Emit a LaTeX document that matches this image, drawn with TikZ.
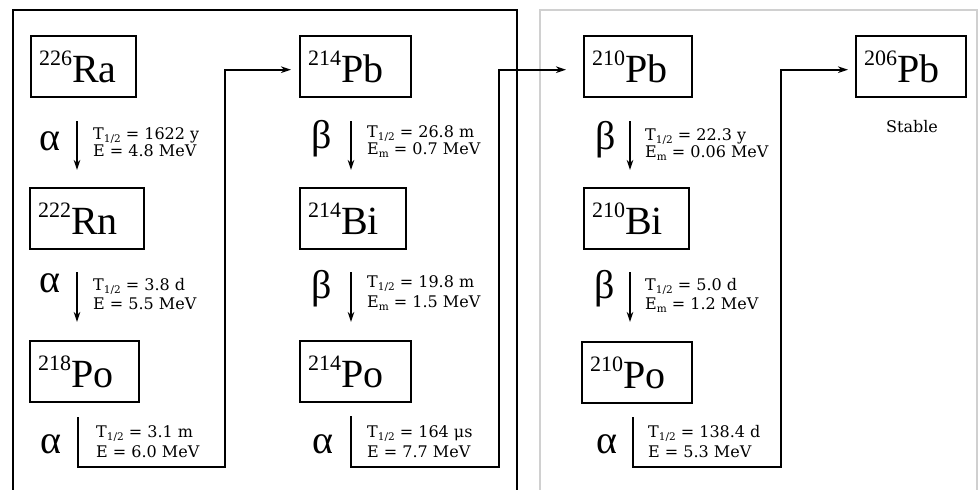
\documentclass[tikz,border=0pt]{standalone}
\usepackage{fontspec}
\newfontfamily\nucfont{Liberation Serif}
\newfontfamily\lblfont{DejaVu Serif}
\usetikzlibrary{arrows.meta}
\definecolor{framegray}{RGB}{208,208,208}
\newcommand\nuc[2]{{\nucfont\raisebox{17pt}{\fontsize{22}{22}\selectfont #1}\fontsize{40}{40}\selectfont #2}}
\newcommand\grk[1]{{\nucfont\fontsize{40}{40}\selectfont #1}}
\newcommand\sbs[1]{\raisebox{-3pt}{\fontsize{10.5}{10.5}\selectfont #1}}
\begin{document}
\begin{tikzpicture}[x=1pt,y=-1pt,
 nucbox/.style={draw, line width=2.4pt, inner xsep=8pt, inner ysep=0pt, minimum height=61pt, anchor=north west, align=left},
 lbl/.style={anchor=base west, inner sep=0pt, font=\lblfont\fontsize{16}{16}\selectfont},
 greek/.style={anchor=base, inner sep=0pt},
 tip/.style={-{Stealth[length=10pt,width=6.5pt,inset=3pt]}},
 decay/.style={line width=1.3pt, tip},
 chain/.style={line width=1.8pt, tip}
]
\useasboundingbox (0,0) rectangle (978,490);
\fill[white] (0,0) rectangle (978,490);
% frames
\draw[line width=2pt] (13,520) -- (13,10) -- (517,10) -- (517,520);
\draw[line width=2pt, framegray] (540,520) -- (540,10) -- (977,10) -- (977,520);

% nuclide boxes
\node[nucbox, text width=89pt] (ra226) at (30,35) {\nuc{226}{Ra}};
\node[nucbox, text width=98pt] (rn222) at (29,187) {\nuc{222}{Rn}};
\node[nucbox, text width=93pt] (po218) at (29,340) {\nuc{218}{Po}};
\node[nucbox, text width=95pt] (pb214) at (299,35) {\nuc{214}{Pb}};
\node[nucbox, text width=90pt] (bi214) at (299,187) {\nuc{214}{Bi}};
\node[nucbox, text width=95pt] (po214) at (299,340) {\nuc{214}{Po}};
\node[nucbox, text width=92pt] (pb210) at (583,35) {\nuc{210}{Pb}};
\node[nucbox, text width=89pt] (bi210) at (583,187) {\nuc{210}{Bi}};
\node[nucbox, text width=94pt] (po210) at (581,341) {\nuc{210}{Po}};
\node[nucbox, text width=94pt] (pb206) at (855,35) {\nuc{206}{Pb}};

% decay symbols
\node[greek] (g11) at (50,150) {\grk{α}};
\node[greek] (g12) at (50,292) {\grk{α}};
\node[greek] (g13) at (51,453) {\grk{α}};
\node[greek] (g21) at (322,148) {\grk{β}};
\node[greek] (g22) at (322,298) {\grk{β}};
\node[greek] (g23) at (323,453) {\grk{α}};
\node[greek] (g31) at (606,149) {\grk{β}};
\node[greek] (g32) at (605,298) {\grk{β}};
\node[greek] (g33) at (607,453) {\grk{α}};

% decay data
\node[lbl] (t11) at (93,139) {T\sbs{1/2} = 1622 y};
\node[lbl] (e11) at (93,156) {E = 4.8 MeV};
\node[lbl] (t12) at (93,290) {T\sbs{1/2} = 3.8 d};
\node[lbl] (e12) at (93,309) {E = 5.5 MeV};
\node[lbl] (t13) at (96,437) {T\sbs{1/2} = 3.1 m};
\node[lbl] (e13) at (96,457) {E = 6.0 MeV};
\node[lbl] (t21) at (367,137) {T\sbs{1/2} = 26.8 m};
\node[lbl] (e21) at (367,154) {E\sbs{m} = 0.7 MeV};
\node[lbl] (t22) at (367,287) {T\sbs{1/2} = 19.8 m};
\node[lbl] (e22) at (367,307) {E\sbs{m} = 1.5 MeV};
\node[lbl] (t23) at (367,437) {T\sbs{1/2} = 164 μs};
\node[lbl] (e23) at (367,457) {E = 7.7 MeV};
\node[lbl] (t31) at (645,140) {T\sbs{1/2} = 22.3 y};
\node[lbl] (e31) at (645,157) {E\sbs{m} = 0.06 MeV};
\node[lbl] (t32) at (645,290) {T\sbs{1/2} = 5.0 d};
\node[lbl] (e32) at (645,309) {E\sbs{m} = 1.2 MeV};
\node[lbl] (t33) at (648,437) {T\sbs{1/2} = 138.4 d};
\node[lbl] (e33) at (648,457) {E = 5.3 MeV};
\node[lbl, anchor=base] (stable) at (912,132) {Stable};

% vertical decay arrows
\coordinate (a11s) at (77,121); \coordinate (a11e) at (77,170);
\coordinate (a12s) at (77,272); \coordinate (a12e) at (77,322);
\coordinate (a21s) at (351,121); \coordinate (a21e) at (351,170);
\coordinate (a22s) at (351,272); \coordinate (a22e) at (351,322);
\coordinate (a31s) at (630,121); \coordinate (a31e) at (630,170);
\coordinate (a32s) at (630,272); \coordinate (a32e) at (630,322);
\draw[decay] (a11s) -- (a11e);
\draw[decay] (a12s) -- (a12e);
\draw[decay] (a21s) -- (a21e);
\draw[decay] (a22s) -- (a22e);
\draw[decay] (a31s) -- (a31e);
\draw[decay] (a32s) -- (a32e);

% column-to-column links
\coordinate (c1s) at (78,417); \coordinate (c1k) at (225,467);
\coordinate (c2s) at (351,416); \coordinate (c2k) at (499,467);
\coordinate (c3s) at (633,417); \coordinate (c3k) at (781,467);
\draw[chain] (c1s) |- (c1k) |- ([xshift=-8pt,yshift=-3pt]pb214.west);
\draw[chain] (c2s) |- (c2k) |- ([xshift=-17pt,yshift=-3pt]pb210.west);
\draw[chain] (c3s) |- (c3k) |- ([xshift=-7pt,yshift=-3pt]pb206.west);
\end{tikzpicture}
\end{document}
